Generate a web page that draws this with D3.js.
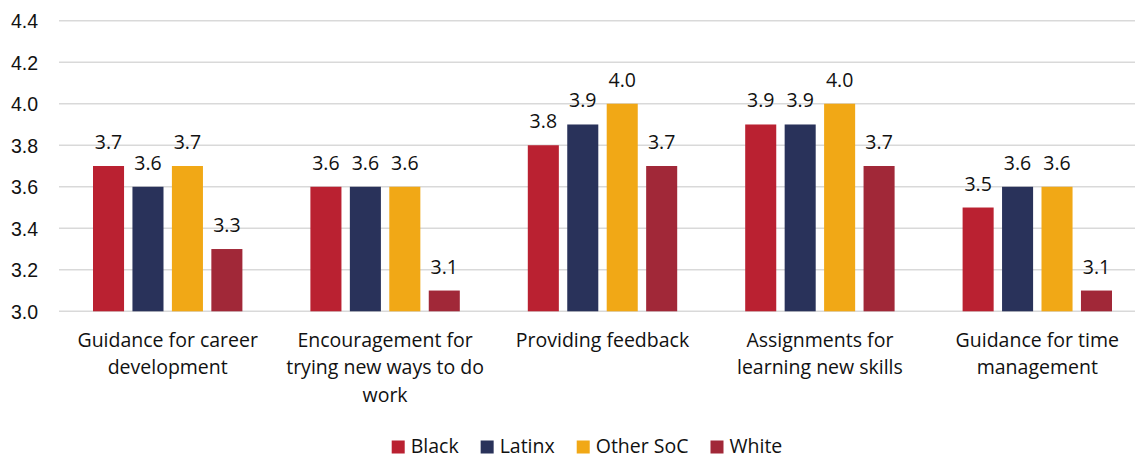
<!DOCTYPE html>
<html>
<head>
<meta charset="utf-8">
<script src="https://cdn.jsdelivr.net/npm/d3@7"></script>
<style>
  body { margin: 0; background: #fff; }
  svg { display: block; font-family: "Open Sans", "Liberation Sans", Arial, sans-serif; }
</style>
</head>
<body>
<div id="chart"></div>
<script>
const width = 1135;
const height = 458;

const categories = [
  "Guidance for career\ndevelopment",
  "Encouragement for\ntrying new ways to do\nwork",
  "Providing feedback",
  "Assignments for\nlearning new skills",
  "Guidance for time\nmanagement"
];
const seriesNames = ["Black", "Latinx", "Other SoC", "White"];
const black = [3.7, 3.6, 3.8, 3.9, 3.5];
const latinx = [3.6, 3.6, 3.9, 3.9, 3.6];
const otherSoc = [3.7, 3.6, 4.0, 4.0, 3.6];
const white = [3.3, 3.1, 3.7, 3.7, 3.1];
const yTicks = [3.0, 3.2, 3.4, 3.6, 3.8, 4.0, 4.2, 4.4];

const seriesValues = [black, latinx, otherSoc, white];
const colors = ["#BA2131", "#29325A", "#F1A816", "#A12838"];

const FONT_SIZE = 19.5;
const TEXT_COLOR = "#111";

const svg = d3.select("#chart")
  .append("svg")
  .attr("width", width)
  .attr("height", height);

const x0 = d3.scaleBand()
  .domain(categories)
  .range([59, 1146]);

const x1 = d3.scaleBand()
  .domain(seriesNames)
  .range([34, x0.bandwidth() - 34])
  .paddingInner(0.213);

const y = d3.scaleLinear()
  .domain([3.0, 4.4])
  .range([311.3, 20.7]);

// gridlines
svg.append("g")
  .selectAll("line")
  .data(yTicks)
  .enter()
  .append("line")
  .attr("x1", 59)
  .attr("x2", width)
  .attr("y1", d => y(d))
  .attr("y2", d => y(d))
  .attr("stroke", "#D9D9D9")
  .attr("stroke-width", 1.5);

// y axis labels
const yAxis = svg.append("g")
  .attr("transform", "translate(38,0)")
  .call(d3.axisLeft(y).tickValues(yTicks).tickFormat(d3.format(".1f")).tickSize(0).tickPadding(0));
yAxis.select(".domain").remove();
yAxis.selectAll("text")
  .attr("font-family", null)
  .style("font-size", FONT_SIZE + "px")
  .attr("fill", TEXT_COLOR)
  .attr("dy", "0.36em");

// bars
const groups = svg.append("g")
  .selectAll("g")
  .data(categories)
  .enter()
  .append("g")
  .attr("transform", d => `translate(${x0(d)},0)`);

groups.selectAll("rect")
  .data((d, i) => seriesNames.map((s, j) => ({ s, j, v: seriesValues[j][i] })))
  .enter()
  .append("rect")
  .attr("x", d => x1(d.s))
  .attr("width", x1.bandwidth())
  .attr("y", d => y(d.v))
  .attr("height", d => y(3.0) - y(d.v))
  .attr("fill", d => colors[d.j]);

groups.selectAll(".val")
  .data((d, i) => seriesNames.map((s, j) => ({ s, j, v: seriesValues[j][i] })))
  .enter()
  .append("text")
  .classed("val", true)
  .attr("x", d => x1(d.s) + x1.bandwidth() / 2)
  .attr("y", d => y(d.v) - 17)
  .attr("text-anchor", "middle")
  .style("font-size", FONT_SIZE + "px")
  .attr("fill", TEXT_COLOR)
  .text(d => d.v.toFixed(1));

// category labels
groups.append("text")
  .attr("text-anchor", "middle")
  .style("font-size", FONT_SIZE + "px")
  .attr("fill", TEXT_COLOR)
  .selectAll("tspan")
  .data(d => d.split("\n"))
  .enter()
  .append("tspan")
  .attr("x", x0.bandwidth() / 2)
  .attr("y", (d, i) => 347 + i * 27.3)
  .text(d => d);

// legend
const legend = svg.append("g");
const items = legend.selectAll("g")
  .data(seriesNames)
  .enter()
  .append("g");
items.append("rect")
  .attr("width", 13)
  .attr("height", 13)
  .attr("y", 440.5)
  .attr("fill", (d, i) => colors[i]);
items.append("text")
  .attr("x", 19)
  .attr("y", 453)
  .style("font-size", FONT_SIZE + "px")
  .attr("fill", TEXT_COLOR)
  .text(d => d);

let offset = 0;
items.each(function() {
  const w = 19 + d3.select(this).select("text").node().getComputedTextLength();
  d3.select(this).attr("transform", `translate(${offset},0)`);
  offset += w + 22;
});
const total = offset - 22;
legend.attr("transform", `translate(${587 - total / 2},0)`);
</script>
</body>
</html>
